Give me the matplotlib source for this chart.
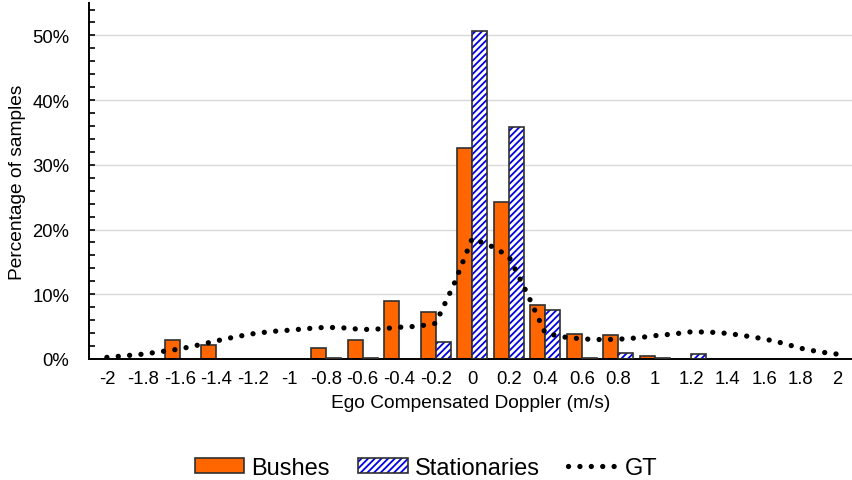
import numpy as np
import matplotlib
matplotlib.use("Agg")
import matplotlib.pyplot as plt
from matplotlib.patches import Patch
from matplotlib.ticker import MultipleLocator, FuncFormatter

plt.rcParams['font.family'] = ['Liberation Sans', 'DejaVu Sans']
plt.rcParams['hatch.linewidth'] = 1.3

# doppler bins (m/s)
categories = [-2, -1.8, -1.6, -1.4, -1.2, -1, -0.8, -0.6, -0.4, -0.2, 0,
              0.2, 0.4, 0.6, 0.8, 1, 1.2, 1.4, 1.6, 1.8, 2]
tick_labels = ["-2", "-1.8", "-1.6", "-1.4", "-1.2", "-1", "-0.8", "-0.6", "-0.4", "-0.2", "0",
               "0.2", "0.4", "0.6", "0.8", "1", "1.2", "1.4", "1.6", "1.8", "2"]
# percentage of samples per bin
bushes = [0, 0, 3.0, 2.1, 0, 0, 1.7, 3.0, 9.0, 7.3, 32.6,
          24.3, 8.3, 3.8, 3.7, 0.4, 0, 0, 0, 0, 0]
stationaries = [0, 0, 0, 0, 0, 0, 0.2, 0.2, 0, 2.7, 50.7,
                35.8, 7.5, 0.2, 0.9, 0.2, 0.7, 0, 0, 0, 0]

# GT curve read every 0.1 m/s
gt_x = [-2.0, -1.9, -1.8, -1.7, -1.6, -1.5, -1.4, -1.3, -1.2, -1.1, -1.0,
        -0.9, -0.8, -0.7, -0.6, -0.5, -0.4, -0.3, -0.2, -0.1, 0.0,
        0.1, 0.2, 0.3, 0.4, 0.5, 0.6, 0.7, 0.8, 0.9, 1.0,
        1.1, 1.2, 1.3, 1.4, 1.5, 1.6, 1.7, 1.8, 1.9, 2.0]
gt = [0.25, 0.5, 0.75, 1.15, 1.55, 2.15, 2.8, 3.4, 3.9, 4.25, 4.45,
      4.7, 4.9, 4.8, 4.55, 4.65, 4.9, 5.05, 5.5, 11.5, 18.6,
      17.5, 15.9, 10.2, 4.0, 3.4, 3.1, 3.0, 3.05, 3.25, 3.6,
      3.85, 4.2, 4.15, 3.95, 3.55, 3.1, 2.45, 1.65, 1.1, 0.75]

orange = "#FF6600"
blue = "#0000E6"
edge = "#303030"
w = 0.082

fig = plt.figure(figsize=(8.52, 4.81), dpi=100)
ax = fig.add_axes([0.104, 0.2516, 0.896, 0.740])

x = np.array(categories)
b = np.array(bushes)
s = np.array(stationaries)
# empty bins get no bar at all
mb = b > 0
ms = s > 0
ax.bar(x[mb] - w/2, b[mb], w, color=orange, edgecolor=edge, linewidth=1.2, zorder=2)
ax.bar(x[ms] + w/2, s[ms], w, color="white", edgecolor=blue, hatch="/////", linewidth=0, zorder=2)
ax.bar(x[ms] + w/2, s[ms], w, color="none", edgecolor=edge, linewidth=1.2, zorder=3)
gt_line, = ax.plot(gt_x, gt, color="black", linewidth=3.8, linestyle=(0, (0.01, 2.15)),
                   dash_capstyle="round", zorder=4)

ax.set_xlim(-2.1, 2.08)
ax.set_ylim(0, 55)
ax.set_xticks(categories)
ax.set_xticklabels(tick_labels, fontsize=13.3)
ax.tick_params(axis="x", length=0, pad=8)
ax.yaxis.set_major_locator(MultipleLocator(10))
ax.yaxis.set_minor_locator(MultipleLocator(2))
ax.yaxis.set_major_formatter(FuncFormatter(lambda v, p: f"{v:.0f}%"))
ax.tick_params(axis="y", which="both", direction="in", length=4, width=1.2, labelsize=13.3, pad=14)
ax.grid(axis="y", color="#d9d9d9", linewidth=1.0, zorder=0)
ax.set_axisbelow(True)

for sp in ["top", "right"]:
    ax.spines[sp].set_visible(False)
for sp in ["left", "bottom"]:
    ax.spines[sp].set_linewidth(1.4)
    ax.spines[sp].set_color("black")

ax.set_xlabel("Ego Compensated Doppler (m/s)", fontsize=13.8, labelpad=5)
ax.set_ylabel("Percentage of samples", fontsize=13.8, labelpad=4)

h_b = Patch(facecolor=orange, edgecolor=edge, linewidth=1.2)
h_s1 = Patch(facecolor="white", edgecolor=blue, hatch="/////", linewidth=0)
h_s2 = Patch(facecolor="none", edgecolor=edge, linewidth=1.2)
fig.legend([h_b, (h_s1, h_s2), gt_line], ["Bushes", "Stationaries", "GT"],
           loc="lower center", bbox_to_anchor=(0.5, -0.042), ncol=3, frameon=False,
           fontsize=17, handlelength=2.1, handleheight=0.55, handletextpad=0.3,
           columnspacing=1.2)

fig.savefig("out.png", dpi=100)
